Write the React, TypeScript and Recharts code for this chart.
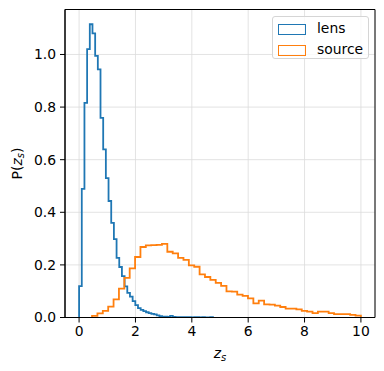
import { LineChart, Line, XAxis, YAxis, CartesianGrid, ReferenceArea } from 'recharts';

// histogram ranges (bin edges span these), 50 bins each
const LENS_RANGE = [0, 4.75];
const SOURCE_RANGE = [0.46, 10.0];

// density per bin
const lensDensity = [
  0.119, 0.489, 0.816, 1.02, 1.115, 1.08, 0.995, 0.943, 0.759, 0.639,
  0.53, 0.443, 0.36, 0.298, 0.227, 0.192, 0.157, 0.118, 0.094, 0.079,
  0.062, 0.047, 0.036, 0.029, 0.024, 0.02, 0.017, 0.014, 0.012, 0.008,
  0.005, 0.003, 0.003, 0.002, 0.006, 0.002, 0.001, 0.001, 0.001, 0.001,
  0.001, 0.001, 0.0, 0.001, 0.001, 0.0, 0.001, 0.0, 0.0, 0.001,
];

const sourceDensity = [
  0.006, 0.016, 0.025, 0.041, 0.069, 0.11, 0.151, 0.187, 0.23, 0.268,
  0.274, 0.275, 0.276, 0.28, 0.25, 0.244, 0.227, 0.219, 0.198, 0.193,
  0.164, 0.154, 0.143, 0.132, 0.12, 0.099, 0.098, 0.087, 0.082, 0.073,
  0.054, 0.064, 0.05, 0.049, 0.045, 0.04, 0.034, 0.034, 0.031, 0.025,
  0.022, 0.017, 0.022, 0.022, 0.017, 0.013, 0.013, 0.013, 0.01, 0.007,
];

const xTicks = [0, 2, 4, 6, 8, 10];
const yTicks = [0, 0.2, 0.4, 0.6, 0.8, 1.0];

const LENS_COLOR = '#1f77b4';
const SOURCE_COLOR = '#ff7f0e';
const FONT = '"DejaVu Sans", sans-serif';
const FONT_SIZE = 13.9;

// step outline like matplotlib histtype='step'
const toSteps = (range: number[], values: number[]) => {
  const [lo, hi] = range;
  const w = (hi - lo) / values.length;
  const pts = [{ x: lo, y: 0 }];
  values.forEach((v, i) => pts.push({ x: lo + i * w, y: v }));
  pts.push({ x: hi, y: 0 });
  return pts;
};

const lensSteps = toSteps(LENS_RANGE, lensDensity);
const sourceSteps = toSteps(SOURCE_RANGE, sourceDensity);

const X_DOMAIN = [-0.5, 10.5];
const Y_DOMAIN = [0, 1.171];

const XLabel = ({ viewBox }: any) => (
  <text
    x={viewBox.x + viewBox.width / 2}
    y={viewBox.y + 40}
    textAnchor="middle"
    fontFamily={FONT}
    fontSize={FONT_SIZE}
    fill="#000"
  >
    <tspan fontStyle="italic">z</tspan>
    <tspan fontStyle="italic" fontSize={10} dy={3}>s</tspan>
  </text>
);

const YLabel = ({ viewBox }: any) => {
  const cx = 17;
  const cy = viewBox.y + viewBox.height / 2;
  return (
    <text
      x={cx}
      y={cy}
      transform={`rotate(-90, ${cx}, ${cy})`}
      textAnchor="middle"
      dominantBaseline="central"
      fontFamily={FONT}
      fontSize={FONT_SIZE}
      fill="#000"
    >
      <tspan>P(</tspan>
      <tspan fontStyle="italic">z</tspan>
      <tspan fontStyle="italic" fontSize={10} dy={3}>s</tspan>
      <tspan dy={-3}>)</tspan>
    </text>
  );
};

const legendItems = [
  { name: 'lens', color: LENS_COLOR },
  { name: 'source', color: SOURCE_COLOR },
];

export default function App() {
  const tickStyle = { fontFamily: FONT, fontSize: FONT_SIZE, fill: '#000' };
  return (
    <div style={{ position: 'absolute', left: 0, top: 0, width: 384, height: 371, background: '#fff' }}>
      <LineChart width={384} height={371} margin={{ top: 9.5, right: 9, left: 0, bottom: 0 }}>
        <CartesianGrid stroke="#dcdcdc" strokeWidth={0.8} />
        <XAxis
          dataKey="x"
          type="number"
          domain={X_DOMAIN}
          ticks={xTicks}
          allowDataOverflow
          height={53.5}
          tick={tickStyle}
          tickSize={5}
          tickMargin={4}
          tickLine={{ stroke: '#000' }}
          axisLine={{ stroke: '#000' }}
          label={<XLabel />}
        />
        <YAxis
          type="number"
          domain={Y_DOMAIN}
          ticks={yTicks}
          allowDataOverflow
          width={65}
          tick={tickStyle}
          tickSize={5}
          tickMargin={4}
          tickFormatter={(v: number) => v.toFixed(1)}
          tickLine={{ stroke: '#000' }}
          axisLine={{ stroke: '#000' }}
          label={<YLabel />}
        />
        <Line
          data={lensSteps}
          dataKey="y"
          type="stepAfter"
          stroke={LENS_COLOR}
          strokeWidth={1.8}
          dot={false}
          isAnimationActive={false}
        />
        <Line
          data={sourceSteps}
          dataKey="y"
          type="stepAfter"
          stroke={SOURCE_COLOR}
          strokeWidth={1.8}
          dot={false}
          isAnimationActive={false}
        />
        {/* frame: top and right spines */}
        <ReferenceArea
          x1={X_DOMAIN[0]}
          x2={X_DOMAIN[1]}
          y1={Y_DOMAIN[0]}
          y2={Y_DOMAIN[1]}
          fill="none"
          fillOpacity={0}
          stroke="#000"
          strokeWidth={1}
          ifOverflow="visible"
        />
      </LineChart>
      <div
        style={{
          position: 'absolute',
          left: 272,
          top: 16,
          width: 95,
          height: 41,
          border: '1px solid #d5d5d5',
          borderRadius: 3,
          background: 'rgba(255,255,255,0.8)',
          fontFamily: FONT,
          fontSize: FONT_SIZE,
        }}
      >
        {legendItems.map((item, i) => (
          <div key={item.name} style={{ position: 'absolute', left: 0, top: 6 + i * 21, height: 14, width: '100%' }}>
            <div
              style={{
                position: 'absolute',
                left: 5,
                top: 1,
                width: 26,
                height: 8.5,
                border: `1.5px solid ${item.color}`,
              }}
            />
            <span style={{ position: 'absolute', left: 44, top: -3, lineHeight: '16px' }}>{item.name}</span>
          </div>
        ))}
      </div>
    </div>
  );
}
